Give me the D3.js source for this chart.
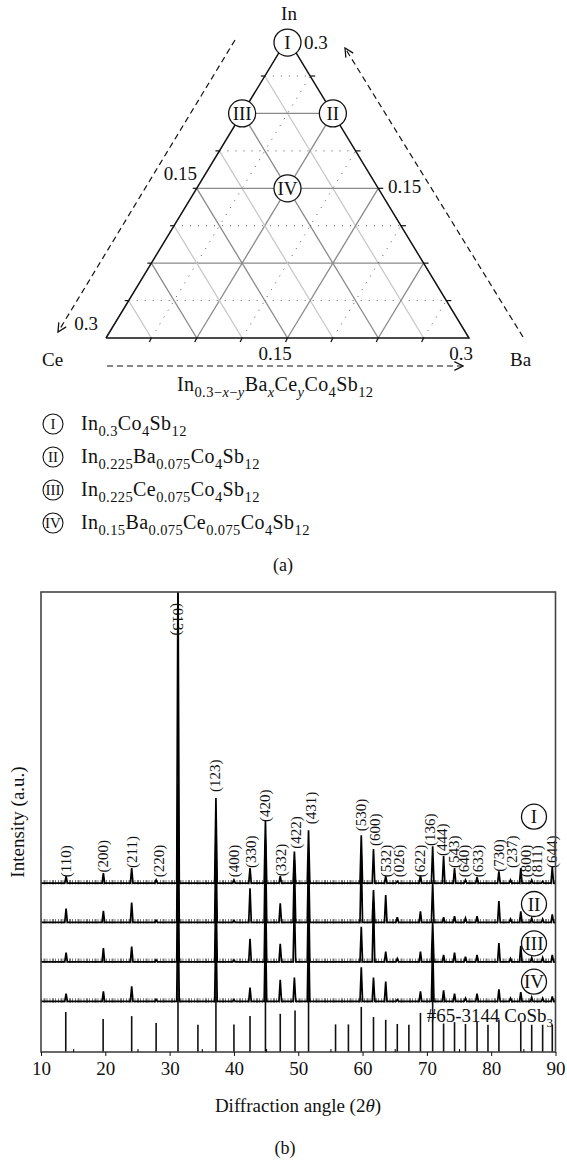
<!DOCTYPE html>
<html>
<head>
<meta charset="utf-8">
<script src="https://cdn.jsdelivr.net/npm/d3@7"></script>
<style>
body { margin: 0; background: #fff; }
text { font-family: "Liberation Serif", "DejaVu Serif", serif; fill: #111; }
</style>
</head>
<body>
<div id="chart"></div>
<script>
// ---- (a) ternary diagram data ----
const sampleNames = ["I", "II", "III", "IV"];
const sampleIn = [0.3, 0.225, 0.225, 0.15];
const sampleBa = [0, 0.075, 0, 0.075];
const gridSteps = [0.0375, 0.075, 0.1125, 0.15, 0.1875, 0.225, 0.2625];
const formulaI = [["In"], ["0.3", 1], ["Co"], ["4", 1], ["Sb"], ["12", 1]];
const formulaII = [["In"], ["0.225", 1], ["Ba"], ["0.075", 1], ["Co"], ["4", 1], ["Sb"], ["12", 1]];
const formulaIII = [["In"], ["0.225", 1], ["Ce"], ["0.075", 1], ["Co"], ["4", 1], ["Sb"], ["12", 1]];
const formulaIV = [["In"], ["0.15", 1], ["Ba"], ["0.075", 1], ["Ce"], ["0.075", 1], ["Co"], ["4", 1], ["Sb"], ["12", 1]];
const formulaAxis = [["In"], ["0.3\u2212", 1], ["x", 2], ["\u2212", 1], ["y", 2], ["Ba"], ["x", 2], ["Ce"], ["y", 2], ["Co"], ["4", 1], ["Sb"], ["12", 1]];

// ---- (b) XRD data ----
const xTicks = [10, 20, 30, 40, 50, 60, 70, 80, 90];
const peakPos = [13.9, 19.7, 24.1, 27.9, 31.3, 37.2, 40.0, 42.5, 44.9, 47.2, 49.4, 51.6, 59.8, 61.7, 63.6, 65.4, 69.0, 70.9, 72.6, 74.3, 76.0, 77.8, 81.2, 83.0, 84.6, 86.3, 88.0, 89.5];
const intI   = [1.5, 2.2, 3.3, 0.7, 70, 18.5, 0.7, 3.3, 13.7, 1.5, 6.9, 11.5, 10.4, 7.4, 1.5, 0.4, 1.7, 8.0, 5.9, 3.3, 0.7, 1.3, 2.6, 0.7, 3.3, 0.7, 0.4, 3.5];
const intII  = [3.0, 2.5, 4.3, 0.4, 30, 18, 0.4, 7.4, 18, 4.1, 13.5, 14.3, 14.3, 7.0, 5.9, 1.1, 2.4, 8.7, 1.1, 1.3, 0.9, 1.3, 4.6, 0.7, 2.4, 0.9, 0.7, 1.7];
const intIII = [2.0, 3.0, 3.3, 0.4, 22, 17, 0.4, 5.0, 17, 3.9, 13, 17, 7.6, 13, 2.2, 0.7, 2.2, 8.7, 1.5, 2.0, 1.1, 1.5, 4.1, 0.7, 3.5, 0.9, 0.9, 1.5];
const intIV  = [1.7, 2.2, 3.3, 0.4, 22, 17, 0.4, 3.0, 17, 4.7, 5.2, 17, 7.4, 5.2, 4.3, 0.4, 2.2, 13, 2.4, 1.7, 0.7, 1.7, 2.6, 0.7, 2.0, 0.9, 0.7, 1.1];
const traceOffsets = [36.7, 28.2, 19.6, 11.0];
const refPos = [13.85, 19.66, 24.1, 27.9, 31.3, 34.4, 37.2, 40.0, 42.5, 44.9, 47.2, 49.5, 51.6, 55.8, 57.8, 59.8, 61.7, 63.6, 65.4, 67.2, 69.0, 70.9, 72.6, 74.3, 76.0, 77.8, 79.5, 81.2, 84.6, 86.3, 88.0, 89.5];
const refInt = [8.7, 7.2, 7.8, 6.3, 40, 5.9, 30, 6.0, 7.8, 28, 8.3, 9.0, 20, 6.0, 6.0, 9.8, 7.6, 7.0, 6.1, 5.9, 8.5, 20, 6.2, 6.5, 6.1, 6.5, 5.9, 7.0, 6.5, 5.9, 5.9, 5.9];
const hklText = ["(110)", "(200)", "(211)", "(220)", "(123)", "(400)", "(330)", "(420)", "(332)", "(422)", "(431)", "(530)", "(600)", "(532)", "(026)", "(622)", "(136)", "(444)", "(543)", "(640)", "(633)", "(730)", "(237)", "(800)", "(811)", "(644)"];
const hklPos = [13.9, 19.6, 24.1, 28.3, 37.1, 40.0, 42.6, 44.9, 47.3, 49.6, 52.0, 59.8, 62.0, 63.6, 65.7, 69.0, 70.5, 72.4, 74.2, 75.8, 77.9, 81.2, 83.3, 85.4, 87.2, 89.5];
const hklBase = [38.0, 39.0, 40.0, 38.0, 56.5, 38.0, 40.0, 50.0, 38.2, 44.2, 49.5, 48.0, 44.8, 38.0, 38.0, 38.0, 44.8, 42.6, 40.0, 38.0, 38.0, 39.2, 40.0, 38.0, 38.0, 40.0];

const svg = d3.select("#chart").append("svg")
    .attr("width", 567)
    .attr("height", 1160)
    .style("background", "#fff");

// subscript text helper
function formula(g, parts, size, subSize) {
    const t = g.append("text").attr("font-size", size);
    let shifted = false;
    parts.forEach(p => {
        const sub = p[1] > 0;
        const ts = t.append("tspan").text(p[0]);
        if (sub) ts.attr("font-size", subSize);
        if (p[1] === 2) ts.attr("font-style", "italic");
        if (sub && !shifted) { ts.attr("dy", size * 0.28); shifted = true; }
        if (!sub && shifted) { ts.attr("dy", -size * 0.28); shifted = false; }
    });
    return t;
}

// ================= (a) ternary =================
const xT = d3.scaleLinear().domain([0, 0.3]).range([106, 469]);
const yT = d3.scaleLinear().domain([0, 0.3]).range([338, 38.6]);
const pt = (b, t) => [xT(b + t / 2), yT(t)];
const tri = svg.append("g");

const defs = svg.append("defs");
defs.append("marker").attr("id", "arr")
    .attr("viewBox", "0 0 10 10").attr("refX", 9).attr("refY", 5)
    .attr("markerWidth", 9).attr("markerHeight", 9).attr("orient", "auto")
    .append("path").attr("d", "M1,1 L9,5 L1,9").attr("fill", "none").attr("stroke", "#111").attr("stroke-width", 1.2);

function seg(p, q, color, w, dash) {
    tri.append("line")
        .attr("x1", p[0]).attr("y1", p[1]).attr("x2", q[0]).attr("y2", q[1])
        .attr("stroke", color).attr("stroke-width", w)
        .attr("stroke-dasharray", dash || null);
}

gridSteps.forEach((v, i) => {
    const major = i % 2 === 1;
    // constant In (horizontal)
    seg(pt(0, v), pt(0.3 - v, v), major ? "#8a8a8a" : "#444", major ? 1.3 : 0.9, major ? null : "1,7");
    // constant Ba (parallel to left edge)
    seg(pt(v, 0), pt(v, 0.3 - v), major ? "#8a8a8a" : "#444", major ? 1.3 : 0.9, major ? null : "1,7");
    // constant Ce (parallel to right edge)
    seg(pt(0.3 - v, 0), pt(0, 0.3 - v), major ? "#8a8a8a" : "#c8c8c8", 1.3, null);
});

// outline
tri.append("path")
    .attr("d", d3.line()([pt(0, 0), pt(0.3, 0), pt(0, 0.3), pt(0, 0)]))
    .attr("fill", "none").attr("stroke", "#111").attr("stroke-width", 1.5);

// edge ticks
gridSteps.forEach(v => {
    const l = pt(0, v), r = pt(0.3 - v, v), b = pt(v, 0);
    seg(l, [l[0] - 4, l[1]], "#111", 1.2);
    seg(r, [r[0] + 5, r[1]], "#111", 1.2);
    seg(b, [b[0] - 2, b[1] + 4], "#111", 1.2);
});

// dashed composition arrows
tri.append("line").attr("x1", 235).attr("y1", 40).attr("x2", 58).attr("y2", 332)
    .attr("stroke", "#111").attr("stroke-width", 1.2).attr("stroke-dasharray", "6,4").attr("marker-end", "url(#arr)");
tri.append("line").attr("x1", 523).attr("y1", 337).attr("x2", 345).attr("y2", 48)
    .attr("stroke", "#111").attr("stroke-width", 1.2).attr("stroke-dasharray", "6,4").attr("marker-end", "url(#arr)");
tri.append("line").attr("x1", 107).attr("y1", 366).attr("x2", 463).attr("y2", 366)
    .attr("stroke", "#111").attr("stroke-width", 1.2).attr("stroke-dasharray", "6,4").attr("marker-end", "url(#arr)");

// sample circles
sampleNames.forEach((n, i) => {
    const p = pt(sampleBa[i], sampleIn[i]);
    const cy = p[1] + (i === 0 ? 4 : 0);
    tri.append("circle").attr("cx", p[0]).attr("cy", cy).attr("r", 13.5)
        .attr("fill", "#fff").attr("stroke", "#111").attr("stroke-width", 1.3);
    tri.append("text").attr("x", p[0]).attr("y", cy + 6.5).attr("text-anchor", "middle")
        .attr("font-size", 19).text(n);
});

// corner and scale labels
const lab = (x, y, s, anchor) => tri.append("text").attr("x", x).attr("y", y)
    .attr("text-anchor", anchor || "start").attr("font-size", 19).text(s);
lab(289, 20, "In", "middle");
lab(304, 49, "0.3");
lab(197, 180, "0.15", "end");
lab(388, 193, "0.15");
lab(98, 330, "0.3", "end");
lab(275, 360, "0.15", "middle");
lab(461, 360, "0.3", "middle");
lab(42, 366, "Ce");
lab(510, 366, "Ba");

formula(tri, formulaAxis, 20, 14.5).attr("x", 177).attr("y", 391).attr("letter-spacing", 0.4);

// legend
[formulaI, formulaII, formulaIII, formulaIV].forEach((f, i) => {
    const cy = 424 + i * 33;
    tri.append("circle").attr("cx", 53).attr("cy", cy).attr("r", 10)
        .attr("fill", "#fff").attr("stroke", "#111").attr("stroke-width", 1.1);
    tri.append("text").attr("x", 53).attr("y", cy + 5).attr("text-anchor", "middle")
        .attr("font-size", 15).text(sampleNames[i]);
    formula(tri, f, 20, 14.5).attr("x", 81).attr("y", cy + 6).attr("letter-spacing", 0.4);
});

svg.append("text").attr("x", 283).attr("y", 571).attr("text-anchor", "middle").attr("font-size", 18).text("(a)");

// ================= (b) XRD =================
const pLeft = 41, pRight = 555.5, pTop = 592, pBottom = 1052;
const x = d3.scaleLinear().domain([10, 90]).range([pLeft, pRight]);
const y = d3.scaleLinear().domain([0, 100]).range([pBottom, pTop]);
const xrd = svg.append("g");

defs.append("clipPath").attr("id", "frame")
    .append("rect").attr("x", pLeft).attr("y", pTop).attr("width", pRight - pLeft).attr("height", pBottom - pTop);

const plot = xrd.append("g").attr("clip-path", "url(#frame)");

// reference pattern sticks
plot.selectAll(".ref").data(refPos).enter().append("line")
    .attr("x1", d => x(d)).attr("x2", d => x(d))
    .attr("y1", y(0)).attr("y2", (d, i) => y(refInt[i]))
    .attr("stroke", "#111").attr("stroke-width", 1.6);

// measured traces
const hw = 0.2;
const line = d3.line().x(d => x(d[0])).y(d => y(d[1]));
[intI, intII, intIII, intIV].forEach((ints, k) => {
    const off = traceOffsets[k];
    const pts = [[10, off]];
    peakPos.forEach((p, i) => {
        pts.push([p - hw, off], [p, off + ints[i]], [p + hw, off]);
    });
    pts.push([90, off]);
    // noisy background band
    plot.append("line").attr("x1", x(10)).attr("x2", x(90)).attr("y1", y(off) - 1).attr("y2", y(off) - 1)
        .attr("stroke", "#111").attr("stroke-width", 4.5).attr("stroke-dasharray", "1,1.5,2,1,1,2")
        .attr("opacity", 0.55);
    plot.append("path").attr("d", line(pts))
        .attr("fill", "none").attr("stroke", "#000").attr("stroke-width", 1.7);
});

// hkl labels
hklText.forEach((s, i) => {
    xrd.append("text")
        .attr("transform", "translate(" + (x(hklPos[i]) + 5) + "," + y(hklBase[i]) + ") rotate(-90)")
        .attr("font-size", 15).text(s);
});
xrd.append("text")
    .attr("transform", "translate(" + (x(31.3) - 5) + "," + 603 + ") rotate(90)")
    .attr("font-size", 15).text("(013)");

// sample circles on traces
const circY = [816.7, 904, 943.3, 981.7];
sampleNames.forEach((n, i) => {
    xrd.append("circle").attr("cx", 534).attr("cy", circY[i]).attr("r", 12.5)
        .attr("fill", "none").attr("stroke", "#111").attr("stroke-width", 1.3);
    xrd.append("text").attr("x", 534).attr("y", circY[i] + 6.5).attr("text-anchor", "middle")
        .attr("font-size", 19).text(n);
});

formula(xrd, [["#65-3144 CoSb"], ["3", 1]], 19, 13).attr("x", 553).attr("y", 1022).attr("text-anchor", "end");

// frame
xrd.append("rect").attr("x", pLeft).attr("y", pTop).attr("width", pRight - pLeft).attr("height", pBottom - pTop)
    .attr("fill", "none").attr("stroke", "#444").attr("stroke-width", 1.6);

// x axis
const ax = xrd.append("g").attr("transform", "translate(0," + pBottom + ")")
    .call(d3.axisBottom(x).tickValues(xTicks).tickSize(4).tickPadding(6).tickFormat(d3.format("d")));
ax.select(".domain").remove();
ax.selectAll("text").attr("font-size", 19).attr("font-family", "Liberation Serif, serif").attr("fill", "#111");
ax.selectAll("line").attr("stroke", "#111");
xrd.append("g").attr("transform", "translate(0," + pBottom + ")")
    .call(d3.axisTop(x).tickValues([15, 25, 35, 45, 55, 65, 75, 85]).tickSize(3).tickFormat(""))
    .call(g => g.select(".domain").remove());

const xl = xrd.append("text").attr("x", 298).attr("y", 1112).attr("text-anchor", "middle").attr("font-size", 19);
xl.append("tspan").text("Diffraction angle (2");
xl.append("tspan").attr("font-style", "italic").text("\u03b8");
xl.append("tspan").text(")");

xrd.append("text").attr("transform", "translate(24,822) rotate(-90)")
    .attr("text-anchor", "middle").attr("font-size", 19).text("Intensity (a.u.)");

svg.append("text").attr("x", 285).attr("y", 1154).attr("text-anchor", "middle").attr("font-size", 18).text("(b)");
</script>
</body>
</html>
